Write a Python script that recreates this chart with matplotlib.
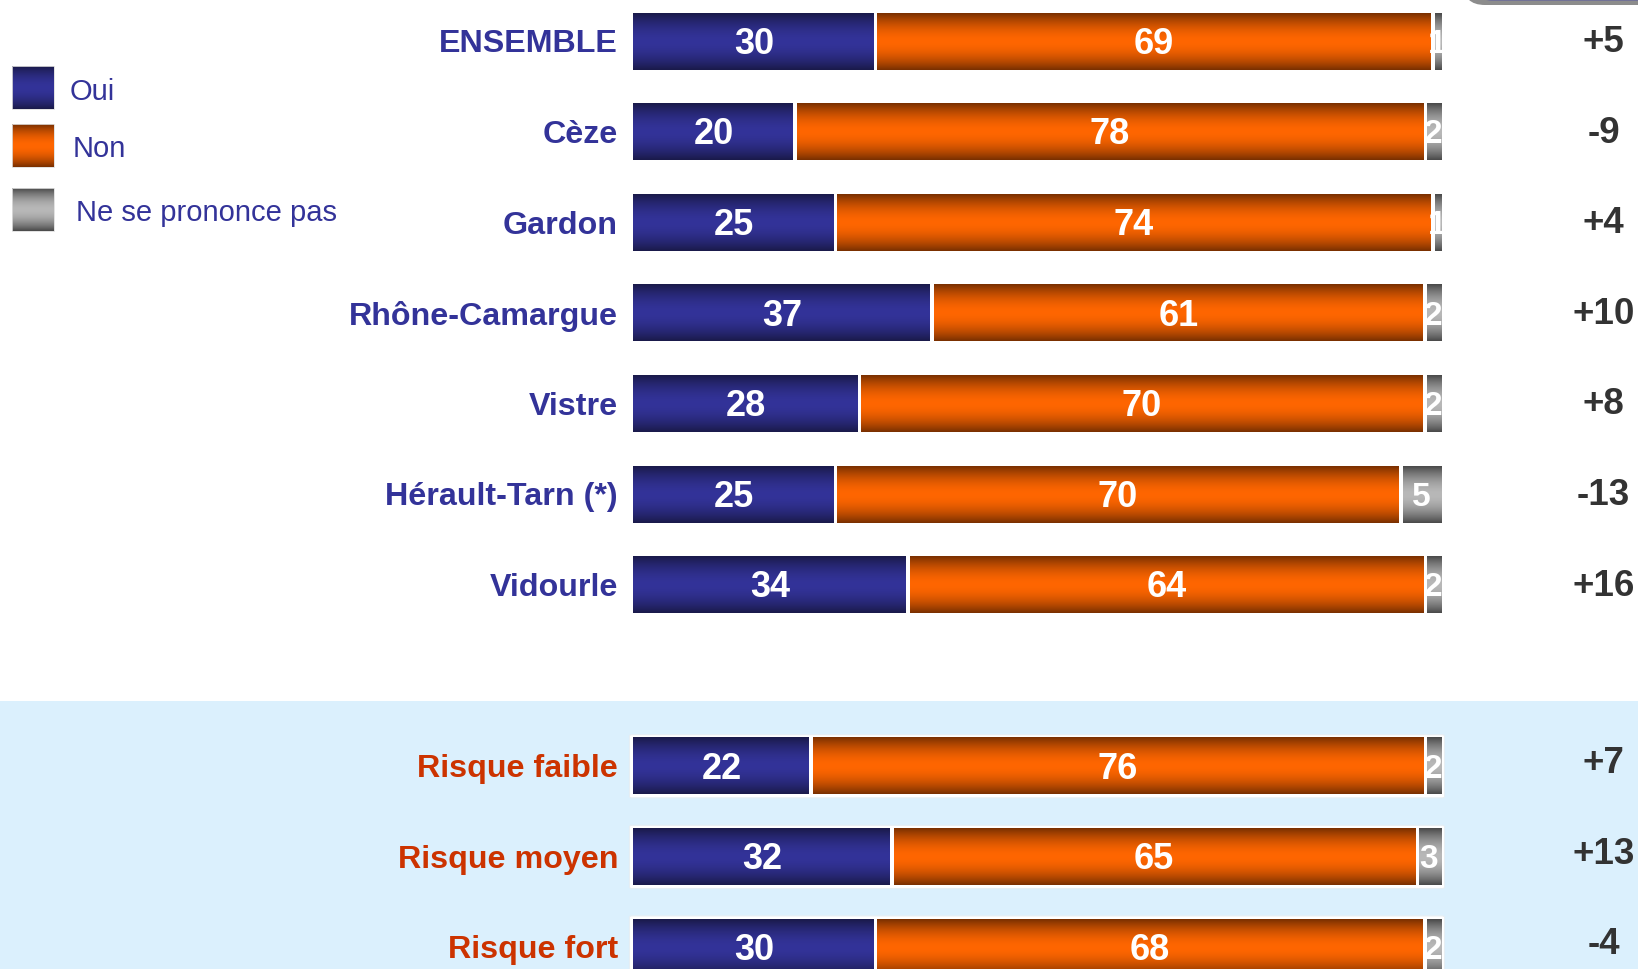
import numpy as np
import matplotlib
matplotlib.use("Agg")
import matplotlib.pyplot as plt
from matplotlib.colors import to_rgb
from matplotlib.patches import Rectangle, FancyBboxPatch

# ---------------- data ----------------
categories = ["ENSEMBLE", "Cèze", "Gardon", "Rhône-Camargue", "Vistre",
              "Hérault-Tarn (*)", "Vidourle",
              "Risque faible", "Risque moyen", "Risque fort"]
oui = [30, 20, 25, 37, 28, 25, 34, 22, 32, 30]
non = [69, 78, 74, 61, 70, 70, 64, 76, 65, 68]
nsp = [1, 2, 1, 2, 2, 5, 2, 2, 3, 2]
evolution = ["+5", "-9", "+4", "+10", "+8", "-13", "+16", "+7", "+13", "-4"]
row_pos = [0, 1, 2, 3, 4, 5, 6, 8, 9, 10]
risk_group = [False] * 7 + [True] * 3
series_names = ["Oui", "Non", "Ne se prononce pas"]

# ---------------- style ----------------
FONT = "Liberation Sans"
NAVY = "#333399"
RED = "#CC3300"
DARK = "#333333"
BAND = "#DBF0FD"
grad_cols = [("#333399", "#1a1a4a"), ("#FF6600", "#7a3000"), ("#B8B8B8", "#4a4a4a")]

W, H = 1638, 970
PX_PER_PCT = 8.08
X0_PX = 633
ROW_PX = 90.6
Y0_PX = 42.5
BAR_H = 0.62


def grad_img(center, edge, n=80):
    y = np.linspace(0, 1, n)
    t = np.abs(y - 0.5) * 2
    w = t ** 1.8
    c = np.array(to_rgb(center))
    e = np.array(to_rgb(edge))
    return (c[None, :] * (1 - w[:, None]) + e[None, :] * w[:, None])[:, None, :]


fig = plt.figure(figsize=(W / 100, H / 100), dpi=100)
fig.patch.set_facecolor("white")

# background / decoration axes in pixel units
bg = fig.add_axes([0, 0, 1, 1], zorder=0)
bg.set_xlim(0, W)
bg.set_ylim(H, 0)
bg.axis("off")
band_top = 702
bg.add_patch(Rectangle((0, band_top), W, H - band_top, fc=BAND, ec="none"))
bg.add_patch(FancyBboxPatch((1463, -60), 260, 66, boxstyle="round,pad=0,rounding_size=22",
                            fc="#8c8c8c", ec="none"))
bg.add_patch(FancyBboxPatch((1470, -60), 260, 61.5, boxstyle="round,pad=0,rounding_size=22",
                            fc="#5a5aa0", ec="none"))

# legend
leg_sq = [(12, 67), (12, 124.5), (12, 188.5)]
leg_txt = [(70, 92), (73, 149), (76, 213)]
for i, name in enumerate(series_names):
    x, y = leg_sq[i]
    bg.imshow(grad_img(*grad_cols[i]), extent=(x, x + 42, y + 43, y),
              aspect="auto", interpolation="bilinear", zorder=2)
    bg.add_patch(Rectangle((x, y), 42, 43, fc="none", ec="#dddddd", lw=0.6, zorder=3))
    bg.text(leg_txt[i][0], leg_txt[i][1], name, fontsize=21, color=NAVY,
            family=FONT, va="center", ha="left")
bg.set_xlim(0, W)
bg.set_ylim(H, 0)

# main chart axes
ax = fig.add_axes([0, 0, 1, 1], zorder=1)
ax.patch.set_alpha(0)
ax.axis("off")

gap = 4 / PX_PER_PCT
for k in range(len(categories)):
    y = row_pos[k]
    vals = [oui[k], non[k], nsp[k]]
    if risk_group[k]:
        px = 3.5 / PX_PER_PCT
        py = 3.5 / ROW_PX
        ax.add_patch(FancyBboxPatch((-px, y - BAR_H / 2 - py), 100 + 2 * px, BAR_H + 2 * py,
                                    boxstyle="round,pad=0,rounding_size=0.3",
                                    fc="white", ec="#e6eef3", lw=0.8, zorder=1,
                                    mutation_aspect=0.05))
    cum = 0
    for j, v in enumerate(vals):
        left = cum + (gap / 2 if j > 0 else 0)
        right = cum + v - (gap / 2 if j < 2 else 0)
        ax.imshow(grad_img(*grad_cols[j]),
                  extent=(left, right, y + BAR_H / 2, y - BAR_H / 2),
                  aspect="auto", interpolation="bilinear", zorder=2)
        fs = 26 if j < 2 else 24
        ax.text(cum + v / 2, y + 0.02, str(v), color="white", fontsize=fs,
                fontweight="bold", family=FONT, ha="center", va="center", zorder=4)
        cum += v
    ax.text(-15 / PX_PER_PCT, y + 0.02, categories[k], ha="right", va="center",
            fontsize=23.2, fontweight="bold", family=FONT,
            color=RED if risk_group[k] else NAVY, zorder=4)
    ax.text((1603.6 - X0_PX) / PX_PER_PCT, y - (0.04 if risk_group[k] else 0.0),
            evolution[k], ha="center", va="center", fontsize=26.5,
            fontweight="bold", family=FONT, color=DARK, zorder=4)

ax.set_xlim(-X0_PX / PX_PER_PCT, (W - X0_PX) / PX_PER_PCT)
ax.set_ylim((H - Y0_PX) / ROW_PX, -Y0_PX / ROW_PX)

fig.savefig("out.png", dpi=100, facecolor="white")
